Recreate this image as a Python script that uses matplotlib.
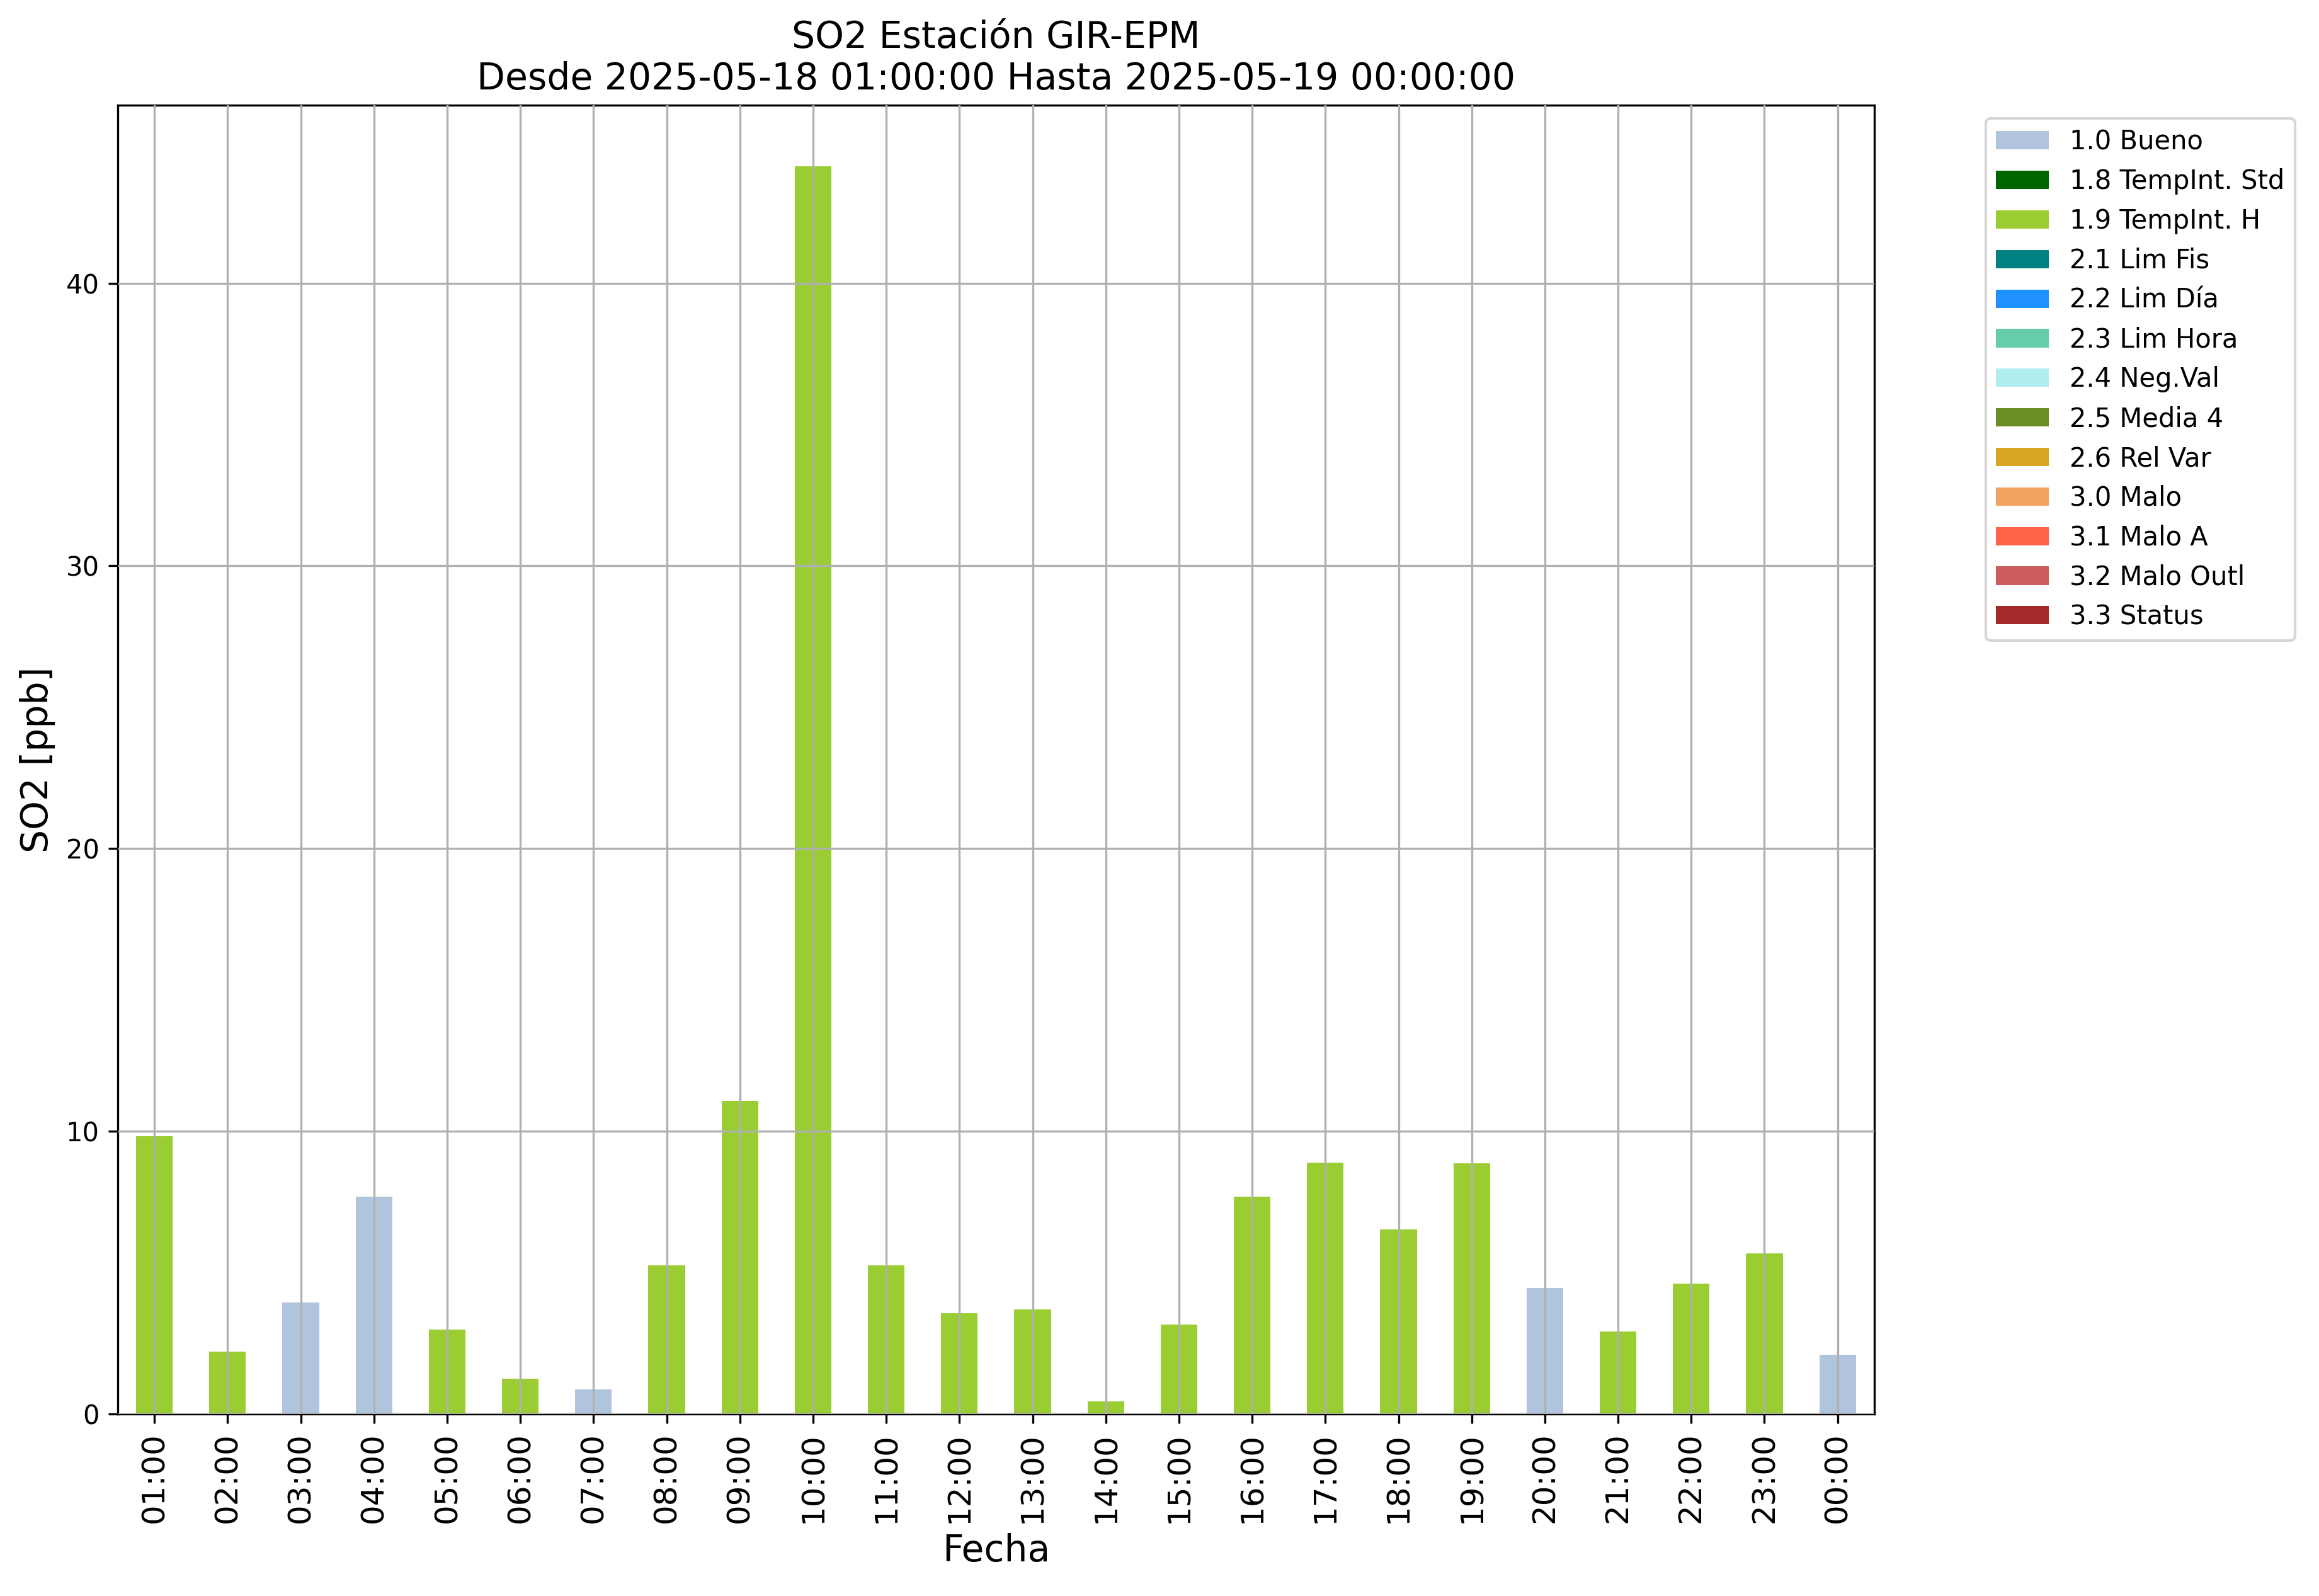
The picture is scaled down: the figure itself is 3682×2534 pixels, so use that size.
import matplotlib
matplotlib.use("Agg")
import matplotlib.pyplot as plt
from matplotlib.patches import Patch
import numpy as np

hours = ["01:00", "02:00", "03:00", "04:00", "05:00", "06:00", "07:00", "08:00",
         "09:00", "10:00", "11:00", "12:00", "13:00", "14:00", "15:00", "16:00",
         "17:00", "18:00", "19:00", "20:00", "21:00", "22:00", "23:00", "00:00"]
values = [9.83, 2.20, 3.94, 7.67, 2.98, 1.24, 0.86, 5.26,
          11.06, 44.13, 5.26, 3.56, 3.70, 0.44, 3.16, 7.69,
          8.89, 6.53, 8.85, 4.45, 2.92, 4.61, 5.68, 2.09]
flags = ["1.9 TempInt. H", "1.9 TempInt. H", "1.0 Bueno", "1.0 Bueno",
         "1.9 TempInt. H", "1.9 TempInt. H", "1.0 Bueno", "1.9 TempInt. H",
         "1.9 TempInt. H", "1.9 TempInt. H", "1.9 TempInt. H", "1.9 TempInt. H",
         "1.9 TempInt. H", "1.9 TempInt. H", "1.9 TempInt. H", "1.9 TempInt. H",
         "1.9 TempInt. H", "1.9 TempInt. H", "1.9 TempInt. H", "1.0 Bueno",
         "1.9 TempInt. H", "1.9 TempInt. H", "1.9 TempInt. H", "1.0 Bueno"]

categories = ["1.0 Bueno", "1.8 TempInt. Std", "1.9 TempInt. H", "2.1 Lim Fis",
              "2.2 Lim Día", "2.3 Lim Hora", "2.4 Neg.Val", "2.5 Media 4",
              "2.6 Rel Var", "3.0 Malo", "3.1 Malo A", "3.2 Malo Outl", "3.3 Status"]
colors = ["lightsteelblue", "darkgreen", "yellowgreen", "teal", "dodgerblue",
          "mediumaquamarine", "paleturquoise", "olivedrab", "goldenrod",
          "sandybrown", "tomato", "indianred", "brown"]

title = "SO2 Estación GIR-EPM\nDesde 2025-05-18 01:00:00 Hasta 2025-05-19 00:00:00"

fig = plt.figure(figsize=(3682 / 300, 2534 / 300), dpi=300)
ax = fig.add_axes([0.0508, 0.1142, 0.7574, 0.8199])

x = np.arange(len(hours))
bottom = np.zeros(len(hours))
for cat, col in zip(categories, colors):
    h = np.array([v if f == cat else 0.0 for v, f in zip(values, flags)])
    ax.bar(x, h, width=0.5, bottom=bottom, color=col, label=cat)
    bottom += h

ax.set_xlim(-0.5, len(hours) - 0.5)
ax.set_ylim(0, 46.3)
ax.set_yticks([0, 10, 20, 30, 40])
ax.set_xticks(x)
ax.set_xticklabels(hours, rotation=90, fontsize=12)
ax.tick_params(axis="y", labelsize=10)
ax.set_axisbelow(False)
ax.grid(True, color="#b0b0b0", linewidth=0.8)
ax.set_xlabel("Fecha", fontsize=14)
ax.set_ylabel("SO2 [ppb]", fontsize=14)
ax.set_title(title, fontsize=14)

handles = [Patch(facecolor=c, label=l) for l, c in zip(categories, colors)]
ax.legend(handles=handles, loc="upper left", bbox_to_anchor=(1.056, 1), fontsize=10)

fig.savefig("out.png", dpi=300)
